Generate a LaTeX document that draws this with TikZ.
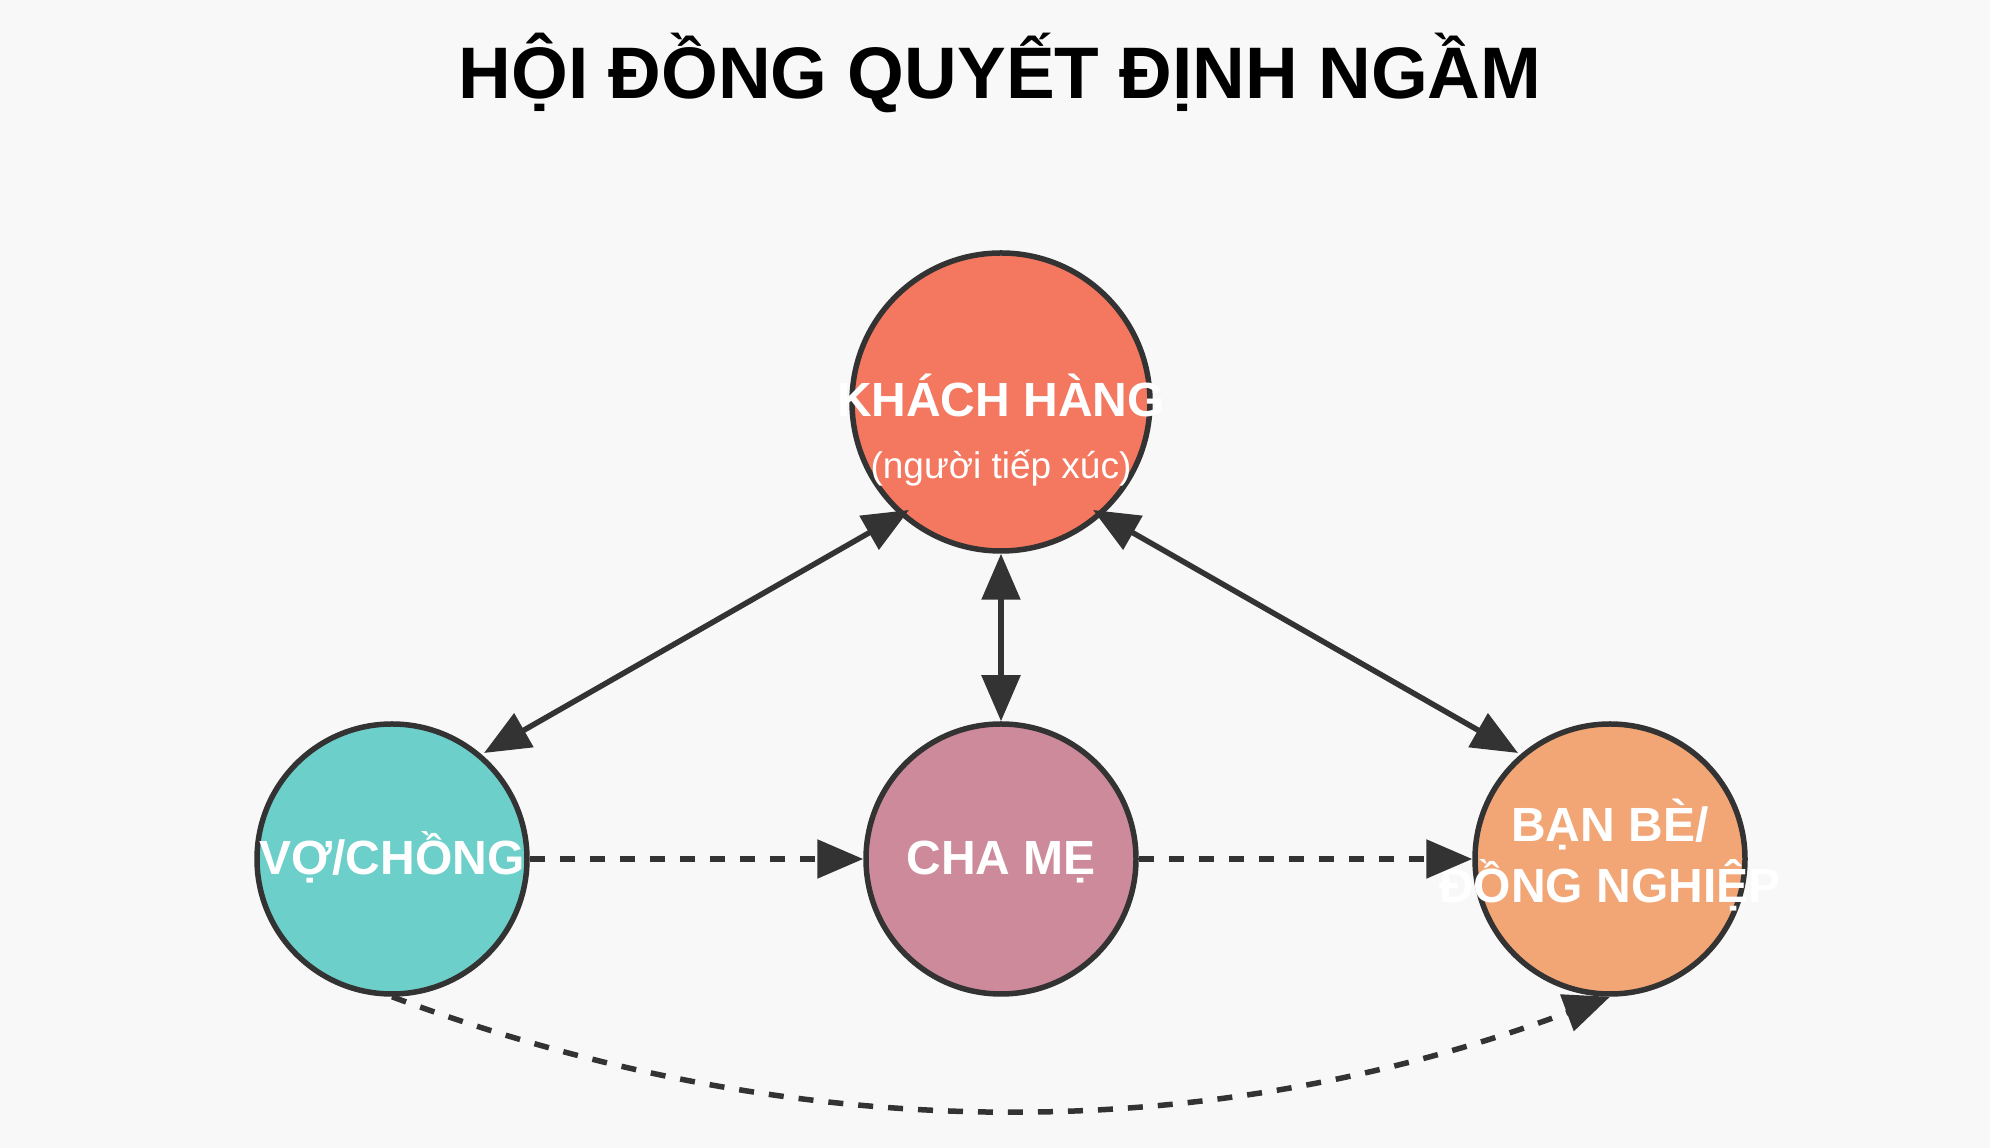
\documentclass[tikz,border=0pt]{standalone}
\usepackage{fontspec}
\setmainfont{Liberation Sans}
\usetikzlibrary{arrows.meta,calc}
\definecolor{bgc}{HTML}{F8F8F8}
\definecolor{linec}{HTML}{333333}
\definecolor{coral}{HTML}{F4775F}
\definecolor{teal}{HTML}{6CCFCA}
\definecolor{rose}{HTML}{CD8A9B}
\definecolor{peach}{HTML}{F2A676}
\tikzset{
  circ/.style={circle, draw=linec, line width=5.5pt, inner sep=0pt, minimum size=#1},
  lbl/.style={text=white, font=\bfseries\fontsize{48}{61}\selectfont, align=center, inner sep=0pt},
  sub/.style={text=white, font=\fontsize{37}{42}\selectfont, inner sep=0pt},
  conn/.style={draw=linec, line width=5.5pt},
  tip/.style={-{Triangle[length=46pt,width=38pt]}},
  tips/.style={{Triangle[length=46pt,width=38pt]}-{Triangle[length=46pt,width=38pt]}},
  dsh/.style={dash pattern=on 15pt off 15pt},
}
\begin{document}
\begin{tikzpicture}[x=1pt,y=1pt]
\path[use as bounding box, fill=bgc] (0,0) rectangle (1990,1148);
\node[font=\bfseries\fontsize{73}{80}\selectfont, anchor=base, inner sep=0pt] (title) at (1000,1049) {HỘI ĐỒNG QUYẾT ĐỊNH NGẦM};
\node[circ=298pt, fill=coral] (top) at (1001,746) {};
\node[circ=270pt, fill=teal] (left) at (392,289) {};
\node[circ=270pt, fill=rose] (mid) at (1001,289) {};
\node[circ=270pt, fill=peach] (right) at (1610,289) {};
\node[lbl, anchor=base] (topl) at (1001,731) {KHÁCH HÀNG};
\node[sub, anchor=base] (tops) at (1001,669) {(người tiếp xúc)};
\node[lbl, anchor=base] (leftl) at (392,273) {VỢ/CHỒNG};
\node[lbl, anchor=base] (midl) at (1001,273) {CHA MẸ};
\node[lbl, anchor=base] (rightl1) at (1610,306) {BẠN BÈ/};
\node[lbl, anchor=base] (rightl2) at (1610,245) {ĐỒNG NGHIỆP};
\draw[conn, tips] ($(top.center)+(-92,-108)$) -- ($(left.center)+(92,106)$);
\draw[conn, tips] (top.south) -- (mid.north);
\draw[conn, tips] ($(top.center)+(92,-108)$) -- ($(right.center)+(-92,106)$);
\draw[conn, dsh, tip] (left.east) -- (mid.west);
\draw[conn, dsh, tip] (mid.east) -- (right.west);
\draw[conn, dsh, tip] (left.south) .. controls (798,0) and (1204,0) .. (right.south);
\end{tikzpicture}
\end{document}
